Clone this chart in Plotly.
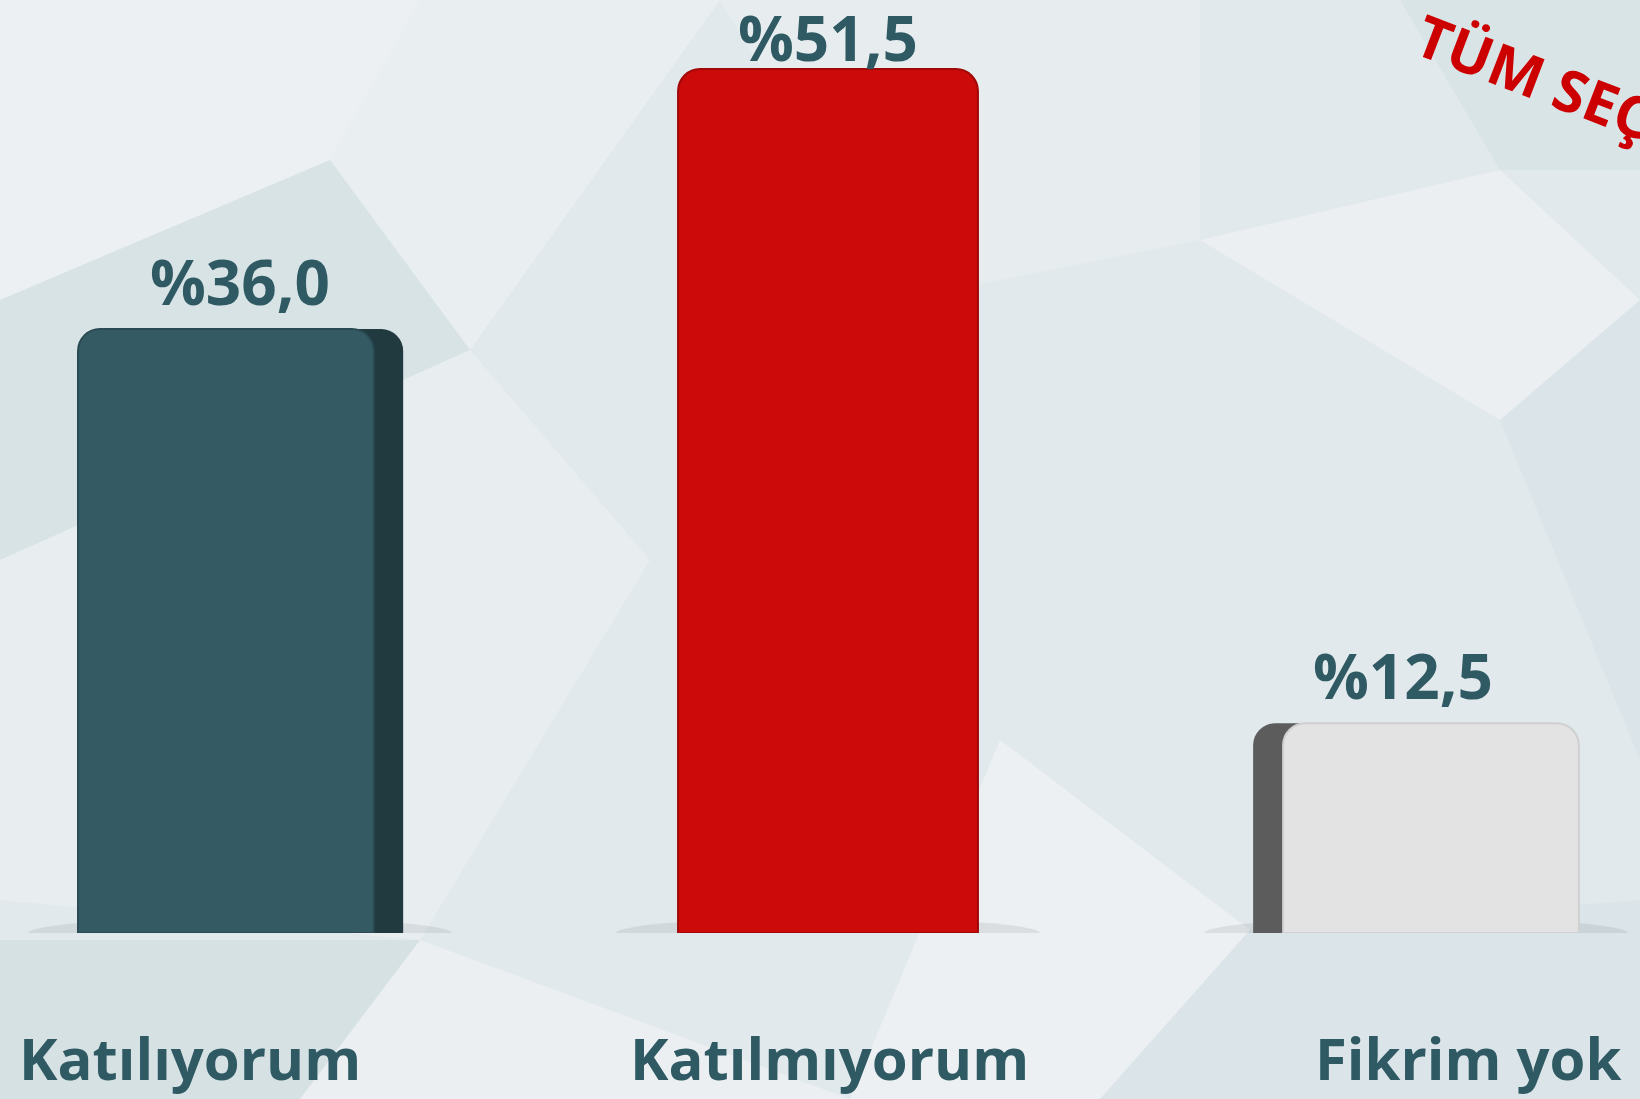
import plotly.graph_objects as go

categories = ["Katılıyorum", "Katılmıyorum", "Fikrim yok"]
values = [36.0, 51.5, 12.5]
value_labels = ["%36,0", "%51,5", "%12,5"]
front_colors = ["#345B64", "#CC0A0A", "#E3E3E3"]
side_colors = ["#213A40", "#A80808", "#5C5C5C"]
corner_title = "TÜM SEÇMENLER"

W, H = 1640, 1099
BASE = 933  # pixel row of the bar baseline
xpos = list(range(len(categories)))

fig = go.Figure()

# side (depth) faces drawn behind the front faces
fig.add_trace(go.Bar(
    x=xpos, y=values,
    width=[0.553, 0.51, 0.554],
    offset=[-0.2755, -0.255, -0.277],
    marker=dict(color=side_colors, line=dict(width=0), cornerradius=22),
    hoverinfo="skip", showlegend=False,
))
# front faces
fig.add_trace(go.Bar(
    x=xpos, y=values,
    width=[0.503, 0.51, 0.503],
    offset=[-0.2755, -0.255, -0.226],
    marker=dict(color=front_colors,
                line=dict(width=2, color=["#2A4B53", "#A00707", "#D0D0D0"]),
                cornerradius=22),
    hovertext=categories, hoverinfo="text+y", showlegend=False,
))

annotations = []
label_shift = [0, 0, -13]
label_yshift = [4, -12, 4]
for i, (v, t) in enumerate(zip(values, value_labels)):
    annotations.append(dict(
        x=xpos[i], y=v, xref="x", yref="y", text=t, showarrow=False,
        xanchor="center", yanchor="bottom", yshift=label_yshift[i], xshift=label_shift[i],
        font=dict(family="Open Sans", size=62, color="#2F5A64", weight="bold"),
    ))
cat_shift = [-50, 1, 52]
for i, c in enumerate(categories):
    annotations.append(dict(
        x=xpos[i], y=0, xref="x", yref="y", text=c, showarrow=False,
        xanchor="center", yanchor="middle", yshift=-124, xshift=cat_shift[i],
        font=dict(family="Open Sans", size=58, color="#2F5A64", weight="bold"),
    ))
annotations.append(dict(
    x=1402 / W, y=(BASE + 8) / BASE, xref="paper", yref="paper", text=corner_title,
    showarrow=False, xanchor="left", yanchor="top", textangle=21,
    font=dict(family="Open Sans", size=58, color="#CC0000", weight="bold"),
))

# decorative low-poly background facets (pixel paths converted to paper coords)
facets = [
    ("M0,0 L420,0 L330,160 L0,300 Z", "rgba(255,255,255,0.35)"),
    ("M420,0 L720,0 L470,350 L330,160 Z", "rgba(255,255,255,0.25)"),
    ("M330,160 L470,350 L0,560 L0,300 Z", "rgba(205,220,225,0.45)"),
    ("M0,560 L470,350 L650,560 L420,940 L0,900 Z", "rgba(255,255,255,0.22)"),
    ("M1000,740 L1250,930 L1100,1099 L850,1099 Z", "rgba(255,255,255,0.35)"),
    ("M1200,240 L1500,170 L1640,300 L1500,420 Z", "rgba(255,255,255,0.3)"),
    ("M1400,0 L1640,0 L1640,170 L1500,170 Z", "rgba(205,220,225,0.4)"),
    ("M1500,420 L1640,300 L1640,760 Z", "rgba(205,220,225,0.35)"),
    ("M0,940 L420,940 L300,1099 L0,1099 Z", "rgba(200,215,220,0.45)"),
    ("M420,940 L850,1099 L300,1099 Z", "rgba(255,255,255,0.3)"),
    ("M1250,930 L1640,900 L1640,1099 L1100,1099 Z", "rgba(205,220,225,0.35)"),
    ("M720,0 L1200,0 L1200,240 L900,300 Z", "rgba(255,255,255,0.2)"),
]
shapes = []
for p, col in facets:
    toks = p.replace("M", " M ").replace("L", " L ").replace("Z", " Z ").split()
    out = ""
    for tok in toks:
        if tok in ("M", "L"):
            out += tok
        elif tok == "Z":
            out += " Z"
        else:
            px, py = (float(s) for s in tok.split(","))
            out += f"{px / W:.4f},{(BASE - py) / BASE:.4f} "
    shapes.append(dict(type="path", xref="paper", yref="paper", path=out.strip(),
                       fillcolor=col, line=dict(width=0), layer="below"))

# soft floor shadows under each bar
for xp in xpos:
    shapes.append(dict(type="circle", xref="x", yref="y",
                       x0=xp - 0.36, x1=xp + 0.36, y0=-0.9, y1=0.9,
                       fillcolor="rgba(60,70,75,0.10)", line=dict(width=0), layer="below"))

x_min = -240 / 588
fig.update_layout(
    width=W, height=H,
    margin=dict(l=0, r=0, t=0, b=H - BASE),
    paper_bgcolor="#E2E9EC",
    plot_bgcolor="rgba(0,0,0,0)",
    barmode="overlay",
    xaxis=dict(range=[x_min, x_min + W / 588], visible=False, fixedrange=True),
    yaxis=dict(range=[0, BASE / (864 / 51.5)], visible=False, fixedrange=True),
    annotations=annotations,
    shapes=shapes,
    showlegend=False,
)

fig.write_html("out.html", config={"displayModeBar": False},
               post_script="document.body.style.margin='0';document.body.style.overflow='hidden';")
